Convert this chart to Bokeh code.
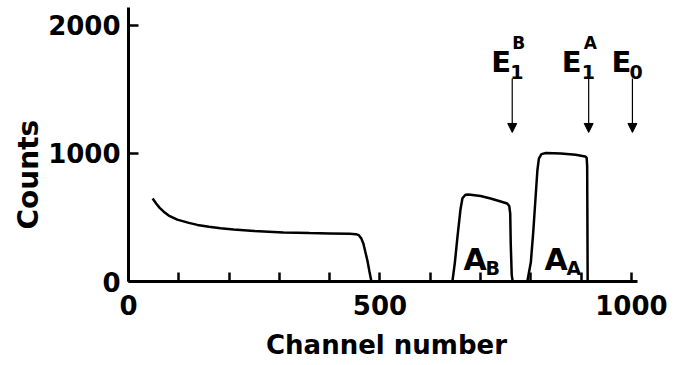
from bokeh.plotting import figure
from bokeh.models import Range1d, FixedTicker, Label, Arrow, NormalHead, Title
from bokeh.embed import file_html
from bokeh.resources import INLINE

# ---- data ----
channel = [48, 55, 62, 70, 80, 97, 120, 137, 160, 183, 209, 250, 308, 360, 400, 440, 452, 458,
           463, 467, 471, 475, 479, 483,
           560, 640, 644, 649, 654, 660, 664, 670, 676, 700, 720, 740, 753, 757, 759, 760, 762, 764,
           780, 793, 800, 805, 813, 816, 821, 830, 860, 889, 908, 911, 912, 913]
counts = [648, 610, 575, 545, 515, 483, 458, 442, 428, 416, 406, 395, 383, 378, 375, 372, 370, 362,
          335, 297, 230, 164, 80, 0,
          0, 0, 0, 150, 344, 560, 650, 678, 680, 668, 648, 625, 609, 590, 531, 300, 50, 0,
          0, 0, 150, 398, 867, 960, 995, 1003, 1000, 990, 977, 965, 900, 0]

x_ticks = [0, 500, 1000]
x_minor = [100, 200, 300, 400, 600, 700, 800, 900]
y_ticks = [0, 1000, 2000]
x_title = "Channel number"
y_title = "Counts"

edge_channels = [763, 915, 1002]
edge_main = ["E", "E", "E"]
edge_sub = ["1", "1", "0"]
edge_sup = ["B", "A", ""]

peak_main = ["A", "A"]
peak_sub = ["B", "A"]

FONT = "DejaVu Sans"

p = figure(width=679, height=365, output_backend="svg", toolbar_location=None,
           x_range=Range1d(0, 1026), y_range=Range1d(0, 2140),
           min_border_left=128, min_border_right=35, min_border_top=7, min_border_bottom=84)
p.outline_line_color = None
p.xgrid.visible = False
p.ygrid.visible = False
p.background_fill_color = "white"

p.line(channel, counts, line_color="black", line_width=2.5)

for ax in (p.xaxis[0], p.yaxis[0]):
    ax.axis_line_width = 3
    ax.axis_line_color = "black"
    ax.major_tick_line_width = 2.5
    ax.minor_tick_line_width = 2.5
    ax.major_tick_out = 0
    ax.minor_tick_out = 0
    ax.major_label_text_font = FONT
    ax.major_label_text_font_style = "bold"
    ax.major_label_text_font_size = "26px"
    ax.major_label_text_color = "black"
    ax.axis_label_text_font = FONT
    ax.axis_label_text_font_style = "bold"
    ax.axis_label_text_color = "black"

p.xaxis.bounds = (0, 1012)
p.xaxis.ticker = FixedTicker(ticks=x_ticks, minor_ticks=x_minor)
p.xaxis.major_tick_in = 9
p.xaxis.minor_tick_in = 9
p.xaxis.major_label_standoff = 13
p.xaxis.axis_label = x_title
p.xaxis.axis_label_text_font_size = "26px"
p.xaxis.axis_label_standoff = 12

p.yaxis.bounds = (0, 2140)
p.yaxis.ticker = FixedTicker(ticks=y_ticks, minor_ticks=[])
p.yaxis.major_tick_in = 10
p.yaxis.minor_tick_in = 0
p.yaxis.major_label_standoff = 8

# y title as a side title so it can sit below the frame centre like the reference
p.add_layout(Title(text=y_title, align="left", offset=52, standoff=2,
                   text_font=FONT, text_font_style="bold", text_font_size="28px",
                   text_color="black"), "left")

# edge markers
main_dx = [-21, -27, -21]
sub_dx = [-2, -7, -3]
sup_dx = [0, -5, 0]
for ch, m, s, sp, mdx, sdx, spdx in zip(edge_channels, edge_main, edge_sub, edge_sup,
                                         main_dx, sub_dx, sup_dx):
    p.add_layout(Arrow(x_start=ch, y_start=1586, x_end=ch, y_end=1164, line_width=1.2,
                       line_color="black",
                       end=NormalHead(size=9, fill_color="black", line_color="black", line_width=1)))
    p.add_layout(Label(x=ch, y=1711, x_offset=mdx, text=m, text_font=FONT, text_font_style="bold",
                       text_font_size="29px", text_baseline="alphabetic", text_color="black"))
    p.add_layout(Label(x=ch, y=1640, x_offset=sdx, text=s, text_font=FONT, text_font_style="bold",
                       text_font_size="19px", text_baseline="alphabetic", text_color="black"))
    if sp:
        p.add_layout(Label(x=ch, y=1860, x_offset=spdx, text=sp, text_font=FONT,
                           text_font_style="bold", text_font_size="17px",
                           text_baseline="alphabetic", text_color="black"))

# peak labels
peak_x = [666, 827]
peak_sub_x = [710, 871]
for m, s, xm, xs in zip(peak_main, peak_sub, peak_x, peak_sub_x):
    p.add_layout(Label(x=xm, y=168, text=m, text_font=FONT, text_font_style="bold",
                       text_font_size="30px", text_baseline="alphabetic", text_color="black"))
    p.add_layout(Label(x=xs, y=105, text=s, text_font=FONT, text_font_style="bold",
                       text_font_size="19px", text_baseline="alphabetic", text_color="black"))

open("out.html", "w").write(file_html(p, INLINE))
